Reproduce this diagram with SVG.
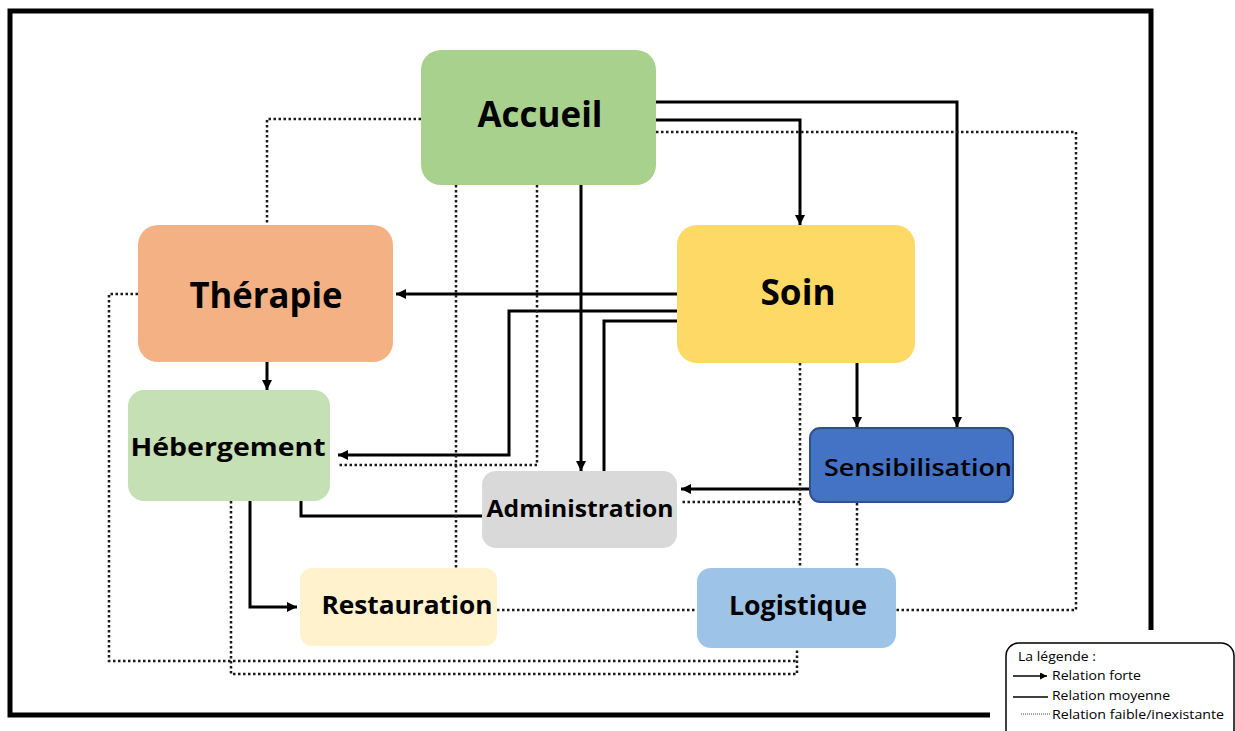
<svg xmlns="http://www.w3.org/2000/svg" width="1235" height="731" viewBox="0 0 1235 731">
  <defs>
    <marker id="arrow" viewBox="0 0 10 10" refX="10" refY="5" markerWidth="10" markerHeight="10" markerUnits="userSpaceOnUse" orient="auto">
      <path d="M0,0 L10,5 L0,10 z" fill="#000"/>
    </marker>
    <marker id="arrowSmall" viewBox="0 0 10 10" refX="10" refY="5" markerWidth="7" markerHeight="7" markerUnits="userSpaceOnUse" orient="auto">
      <path d="M0,0 L10,5 L0,10 z" fill="#000"/>
    </marker>
    <style>
      .label { font-family: "Open Sans", "Liberation Sans", sans-serif; font-weight: 700; fill: #000; text-anchor: middle; }
      .strong { fill: none; stroke: #000; stroke-width: 3; marker-end: url(#arrow); }
      .medium { fill: none; stroke: #000; stroke-width: 3; }
      .weak { fill: none; stroke: #1a1a1a; stroke-width: 2.5; stroke-dasharray: 2.5 2.5; }
      .legend-text { font-family: "Open Sans", "Liberation Sans", sans-serif; font-size: 13px; fill: #000; }
    </style>
  </defs>

  <rect width="1235" height="731" fill="#fff"/>

  <!-- outer frame -->
  <polyline points="990,715 10,715 10,11 1151,11 1151,630" fill="none" stroke="#000" stroke-width="5"/>

  <!-- connectors -->
  <g id="connectors">
    <!-- strong relations -->
    <path class="strong" d="M656,120 H800 V225"/>
    <path class="strong" d="M656,102 H957 V427"/>
    <path class="strong" d="M581,185 V471"/>
    <path class="strong" d="M677,294 H396"/>
    <path class="strong" d="M677,311 H509 V455 H338"/>
    <path class="strong" d="M857,363 V427"/>
    <path class="strong" d="M810,489 H681"/>
    <path class="strong" d="M267,362 V390"/>
    <path class="strong" d="M250,501 V607 H297"/>
    <!-- medium relations -->
    <path class="medium" d="M677,321 H604 V471"/>
    <path class="medium" d="M301,501 V516 H482"/>
    <!-- weak relations -->
    <path class="weak" d="M421,119 H267 V225"/>
    <path class="weak" d="M456,185 V568"/>
    <path class="weak" d="M537,185 V465 H337"/>
    <path class="weak" d="M656,132 H1076 V610 H896"/>
    <path class="weak" d="M138,294 H109 V661 H797"/>
    <path class="weak" d="M231,501 V674 H797 V648"/>
    <path class="weak" d="M800,363 V568"/>
    <path class="weak" d="M800,502 H681"/>
    <path class="weak" d="M857,503 V568"/>
    <path class="weak" d="M497,610 H697"/>
  </g>

  <!-- nodes -->
  <g id="accueil">
    <rect x="421" y="50" width="235" height="135" rx="20" fill="#A9D18E"/>
    <text class="label" x="540" y="127" font-size="36" textLength="125" lengthAdjust="spacingAndGlyphs">Accueil</text>
  </g>
  <g id="therapie">
    <rect x="138" y="225" width="255" height="137" rx="20" fill="#F4B183"/>
    <text class="label" x="266" y="308" font-size="35" textLength="153" lengthAdjust="spacingAndGlyphs">Thérapie</text>
  </g>
  <g id="soin">
    <rect x="677" y="225" width="238" height="138" rx="20" fill="#FFD966"/>
    <text class="label" x="798" y="305" font-size="35" textLength="75" lengthAdjust="spacingAndGlyphs">Soin</text>
  </g>
  <g id="hebergement">
    <rect x="128" y="390" width="202" height="111" rx="16" fill="#C5E0B4"/>
    <text class="label" x="228" y="456" font-size="25" textLength="195" lengthAdjust="spacingAndGlyphs">Hébergement</text>
  </g>
  <g id="administration">
    <rect x="482" y="471" width="195" height="77" rx="14" fill="#D9D9D9"/>
    <text class="label" x="580" y="517" font-size="23" textLength="187" lengthAdjust="spacingAndGlyphs" fill="#1a1a1a">Administration</text>
  </g>
  <g id="sensibilisation">
    <rect x="810" y="428" width="203" height="74" rx="10" fill="#4472C4" stroke="#2F528F" stroke-width="2"/>
    <text class="label" x="918" y="476" font-size="23" font-weight="600" textLength="188" lengthAdjust="spacingAndGlyphs" style="font-weight:600">Sensibilisation</text>
  </g>
  <g id="restauration">
    <rect x="300" y="568" width="197" height="78" rx="12" fill="#FFF2CC"/>
    <text class="label" x="407" y="614" font-size="25" textLength="171" lengthAdjust="spacingAndGlyphs">Restauration</text>
  </g>
  <g id="logistique">
    <rect x="697" y="568" width="199" height="80" rx="14" fill="#9DC3E6"/>
    <text class="label" x="798" y="615" font-size="26" textLength="138" lengthAdjust="spacingAndGlyphs">Logistique</text>
  </g>

  <!-- legend -->
  <g id="legend">
    <rect x="1006" y="643" width="228" height="100" rx="13" fill="#fff" stroke="#000" stroke-width="1.5"/>
    <text class="legend-text" x="1018" y="661" textLength="78" lengthAdjust="spacingAndGlyphs">La légende :</text>
    <line x1="1013" y1="676" x2="1047" y2="676" stroke="#000" stroke-width="1.3" marker-end="url(#arrowSmall)"/>
    <text class="legend-text" x="1052" y="680" textLength="89" lengthAdjust="spacingAndGlyphs">Relation forte</text>
    <line x1="1013" y1="697" x2="1048" y2="697" stroke="#000" stroke-width="1.3"/>
    <text class="legend-text" x="1052" y="700" textLength="118" lengthAdjust="spacingAndGlyphs">Relation moyenne</text>
    <line x1="1021" y1="714" x2="1050" y2="714" stroke="#444" stroke-width="1" stroke-dasharray="1 1"/>
    <text class="legend-text" x="1052" y="719" textLength="172" lengthAdjust="spacingAndGlyphs">Relation faible/inexistante</text>
  </g>
</svg>
